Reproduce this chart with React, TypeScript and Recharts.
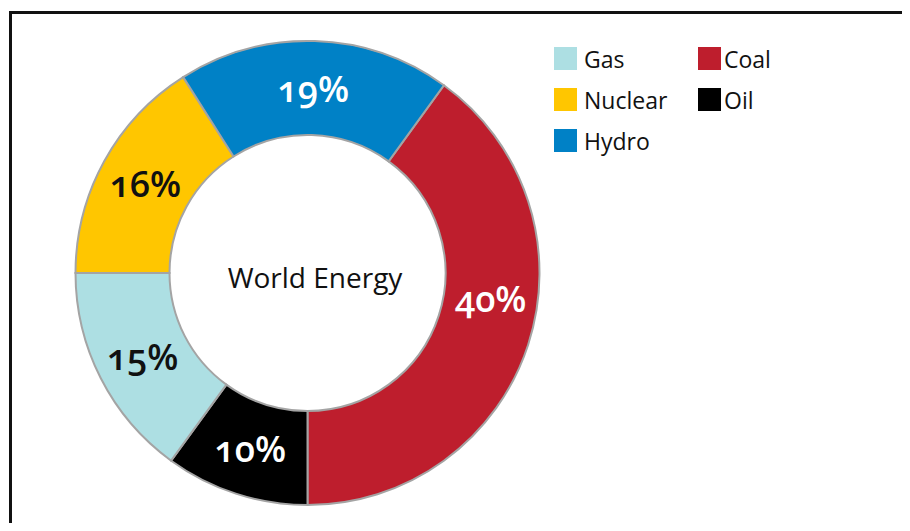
import { PieChart, Pie, Cell, Legend } from "recharts";

const names = ["Coal", "Oil", "Gas", "Nuclear", "Hydro"];
const shares = [40, 10, 15, 16, 19];
const colors = ["#BE1E2D", "#000000", "#ADDFE3", "#FFC600", "#0081C6"];
const labelColors = ["#ffffff", "#ffffff", "#111111", "#111111", "#ffffff"];
const legendOrder = [["Gas", "Nuclear", "Hydro"], ["Coal", "Oil"]];

const data = names.map((name, i) => ({ name, value: shares[i] }));

const RAD = Math.PI / 180;

function renderLabel(props: any) {
  const { cx, cy, midAngle, innerRadius, outerRadius, index, value } = props;
  const r = (innerRadius + outerRadius) / 2;
  // coal label sits a bit higher than its mid angle in the original
  const a = names[index] === "Coal" ? midAngle + 10 : midAngle;
  const x = cx + r * Math.cos(-a * RAD);
  const y = cy + r * Math.sin(-a * RAD);
  return (
    <text
      x={x}
      y={y}
      fill={labelColors[index]}
      textAnchor="middle"
      dominantBaseline="central"
      style={{
        fontFamily: "'Open Sans', sans-serif",
        fontSize: 36,
        fontWeight: 600,
        fontVariantNumeric: "oldstyle-nums",
      }}
    >
      {`${value}%`}
    </text>
  );
}

function LegendBox() {
  return (
    <div style={{ display: "flex", fontFamily: "'Open Sans', sans-serif", fontSize: 23, color: "#111" }}>
      {legendOrder.map((col, ci) => (
        <div key={ci} style={{ width: ci === 0 ? 144 : 100 }}>
          {col.map((n) => (
            <div key={n} style={{ display: "flex", alignItems: "center", height: 41 }}>
              <span
                style={{
                  display: "inline-block",
                  width: 23,
                  height: 23,
                  background: colors[names.indexOf(n)],
                  marginRight: ci === 0 ? 7 : 3,
                }}
              />
              <span>{n}</span>
            </div>
          ))}
        </div>
      ))}
    </div>
  );
}

export default function App() {
  return (
    <div style={{ position: "relative", margin: -8, width: 910, height: 531, overflow: "hidden", background: "#fff" }}>
      <div
        style={{
          position: "absolute",
          left: 9,
          top: 11,
          width: 940,
          height: 560,
          border: "3px solid #111",
          boxSizing: "border-box",
        }}
      />
      <PieChart
        width={910}
        height={531}
        margin={{ top: 0, right: 0, bottom: 0, left: 0 }}
        style={{ position: "absolute", left: 0, top: 0 }}
      >
        <Pie
          data={data}
          dataKey="value"
          nameKey="name"
          cx={307.5}
          cy={273}
          innerRadius={138}
          outerRadius={232}
          startAngle={54}
          endAngle={-306}
          stroke="#a4a4a4"
          strokeWidth={2}
          label={renderLabel}
          labelLine={false}
          isAnimationActive={false}
        >
          {data.map((d, i) => (
            <Cell key={d.name} fill={colors[i]} />
          ))}
        </Pie>
        <text
          x={315}
          y={277}
          textAnchor="middle"
          dominantBaseline="central"
          style={{ fontFamily: "'Open Sans', sans-serif", fontSize: 28, fill: "#111" }}
        >
          World Energy
        </text>
        <Legend
          content={() => <LegendBox />}
          wrapperStyle={{ position: "absolute", left: 554, top: 38, width: 300 }}
        />
      </PieChart>
    </div>
  );
}
